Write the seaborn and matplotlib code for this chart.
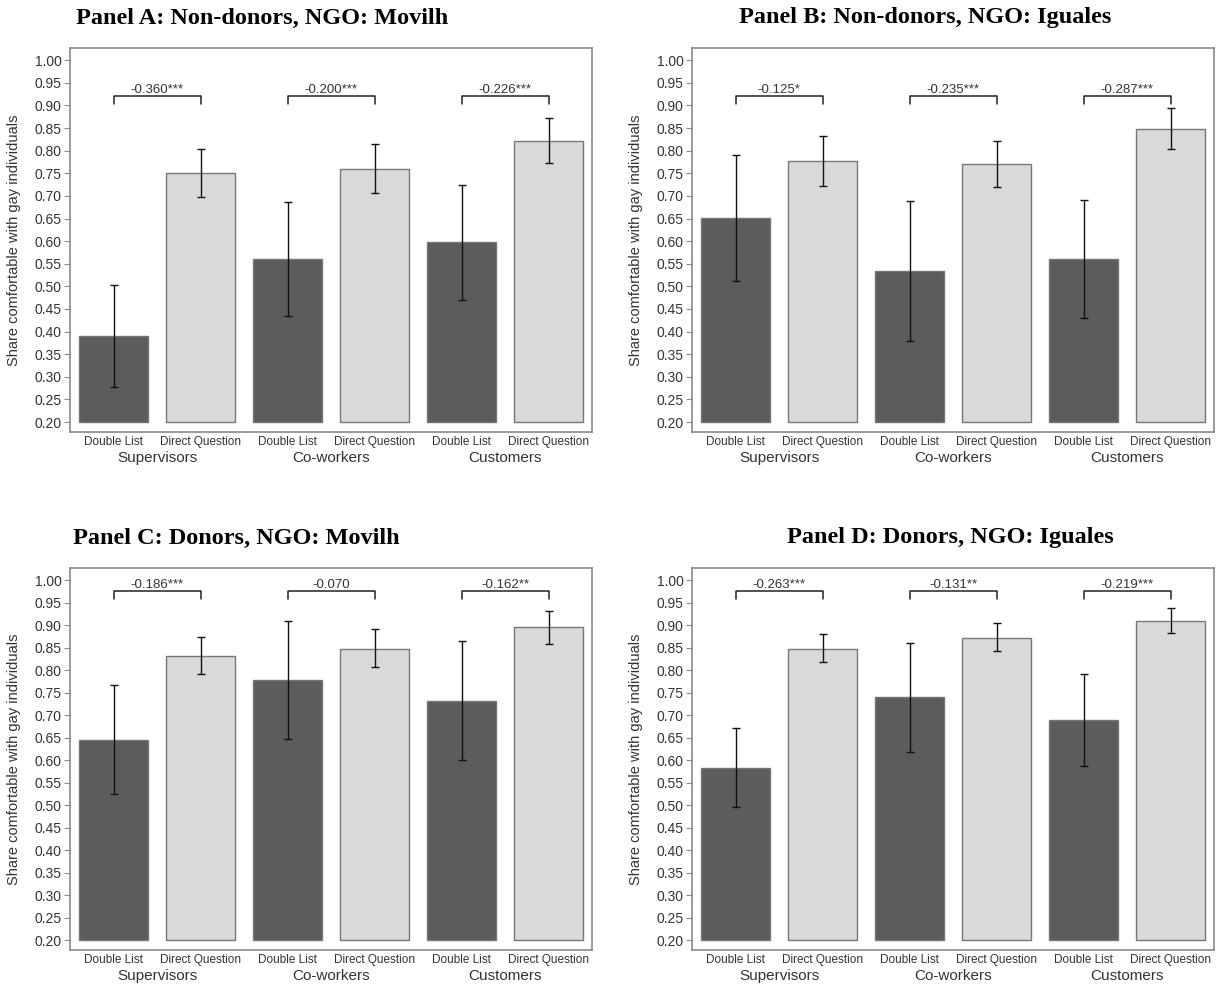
import numpy as np
import pandas as pd
import matplotlib
matplotlib.use("Agg")
import matplotlib.pyplot as plt
import matplotlib.transforms as mtransforms
import seaborn as sns

# ─── DATA ─────────────────────────────────────────────────────────────────────
groups  = ["Supervisors", "Co-workers", "Customers"]
methods = ["Double List", "Direct Question"]

titles = [
    "Panel A: Non-donors, NGO: Movilh",
    "Panel B: Non-donors, NGO: Iguales",
    "Panel C: Donors, NGO: Movilh",
    "Panel D: Donors, NGO: Iguales",
]

# order: (Sup DL, Sup DQ, Co DL, Co DQ, Cu DL, Cu DQ)
means_A = [0.390, 0.750, 0.560, 0.760, 0.597, 0.822]
lo_A    = [0.277, 0.697, 0.435, 0.706, 0.470, 0.773]
hi_A    = [0.503, 0.803, 0.687, 0.815, 0.725, 0.872]
diff_A  = ["-0.360***", "-0.200***", "-0.226***"]

means_B = [0.651, 0.777, 0.535, 0.770, 0.560, 0.848]
lo_B    = [0.512, 0.722, 0.380, 0.720, 0.430, 0.803]
hi_B    = [0.790, 0.832, 0.689, 0.821, 0.692, 0.895]
diff_B  = ["-0.125*", "-0.235***", "-0.287***"]

means_C = [0.645, 0.832, 0.778, 0.848, 0.732, 0.895]
lo_C    = [0.524, 0.791, 0.648, 0.808, 0.600, 0.857]
hi_C    = [0.768, 0.874, 0.910, 0.892, 0.865, 0.932]
diff_C  = ["-0.186***", "-0.070", "-0.162**"]

means_D = [0.582, 0.848, 0.740, 0.872, 0.689, 0.910]
lo_D    = [0.495, 0.817, 0.619, 0.843, 0.587, 0.883]
hi_D    = [0.671, 0.880, 0.861, 0.905, 0.792, 0.937]
diff_D  = ["-0.263***", "-0.131**", "-0.219***"]

bracket_y = [0.920, 0.920, 0.975, 0.975]

# ─── STYLE ────────────────────────────────────────────────────────────────────
DARK  = "#5c5c5c"
LIGHT = "#d9d9d9"
FRAME = "#8a8a8a"
TXT   = "#333333"

sns.set_style("white")
plt.rcParams.update({
    "font.family": ["Liberation Sans", "DejaVu Sans"],
    "axes.edgecolor": FRAME,
    "axes.linewidth": 1.2,
})

fig = plt.figure(figsize=(12.25, 9.85), dpi=100)

W, H = 1225, 985
boxes = [(70, 48, 592, 432), (692, 48, 1214, 432),
         (70, 568, 592, 950), (692, 568, 1214, 950)]
title_pos = [(262, 18), (925, 18), (236, 538), (950, 538)]

panels = [
    (means_A, lo_A, hi_A, diff_A),
    (means_B, lo_B, hi_B, diff_B),
    (means_C, lo_C, hi_C, diff_C),
    (means_D, lo_D, hi_D, diff_D),
]

cats = [f"{g}\n{m}" for g in groups for m in methods]

for i, ((means, lo, hi, diffs), box) in enumerate(zip(panels, boxes)):
    l, t, r, b = box
    ax = fig.add_axes([l / W, 1 - b / H, (r - l) / W, (b - t) / H])

    df = pd.DataFrame({
        "cat": cats,
        "method": [m for g in groups for m in methods],
        "share": means,
    })
    sns.barplot(data=df, x="cat", y="share", hue="method", order=cats,
                hue_order=methods, palette=[DARK, LIGHT], dodge=False,
                width=0.8, errorbar=None, legend=False, ax=ax,
                edgecolor="#777777", linewidth=1.0)
    # bars rise from the 0.20 baseline
    for p in ax.patches:
        h = p.get_height()
        p.set_y(0.20)
        p.set_height(h - 0.20)

    m = np.array(means)
    ax.errorbar(np.arange(6), m, yerr=[m - np.array(lo), np.array(hi) - m],
                fmt="none", ecolor="#111111", elinewidth=1.0, capsize=3,
                capthick=1.0)

    # significance brackets
    by = bracket_y[i]
    for k, lab in enumerate(diffs):
        x0, x1 = 2 * k, 2 * k + 1
        ax.plot([x0, x0, x1, x1], [by - 0.016, by, by, by - 0.016],
                color="#222222", lw=1.1)
        ax.text((x0 + x1) / 2, by + 0.001, lab, ha="center", va="bottom",
                fontsize=9.5, color=TXT)

    ax.set_xlim(-0.5, 5.5)
    ax.set_ylim(0.178, 1.027)
    ticks = np.arange(0.20, 1.001, 0.05)
    ax.set_yticks(ticks)
    ax.set_yticklabels([f"{v:.2f}" for v in ticks], fontsize=10, color=TXT)
    ax.tick_params(axis="y", length=4, color=FRAME, direction="out", left=True, pad=2)
    ax.set_xticks(range(6))
    ax.set_xticklabels([m for g in groups for m in methods], fontsize=8.5, color=TXT)
    ax.tick_params(axis="x", length=0, pad=3)
    ax.set_xlabel("")
    ax.set_ylabel("Share comfortable with gay individuals", fontsize=10.5, color=TXT)
    ax.yaxis.set_label_coords(-0.094, 0.5)

    trans = mtransforms.blended_transform_factory(ax.transData, ax.transAxes)
    for k, g in enumerate(groups):
        ax.text(2 * k + 0.5, -0.068, g, transform=trans, ha="center", va="center",
                fontsize=11, color=TXT)

    for s in ax.spines.values():
        s.set_visible(True)

    tx, ty = title_pos[i]
    fig.text(tx / W, 1 - ty / H, titles[i], ha="center", va="center",
             fontsize=17.5, fontweight="bold", family="Liberation Serif",
             color="black")

fig.savefig("out.png", dpi=100, facecolor="white")
